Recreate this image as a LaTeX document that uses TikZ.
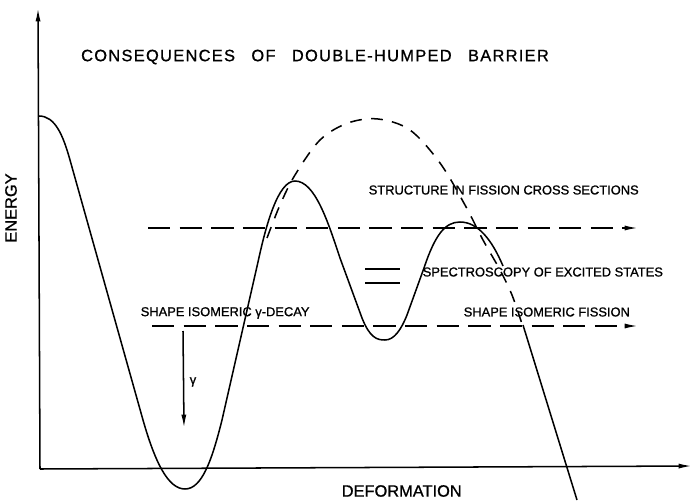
\documentclass[tikz,border=0pt]{standalone}
\usepackage{fontspec}
\setmainfont{Liberation Sans}
\newfontfamily\lettering[FakeBold=1]{Liberation Sans}
\newfontfamily\titlelettering[FakeBold=1,LetterSpace=8]{Liberation Sans}
\usetikzlibrary{arrows.meta}

\begin{document}
\begin{tikzpicture}[x=0.03cm, y=-0.03cm, >={Latex[length=4mm,width=1.5mm]}, line width=1.3pt,
big/.style={font=\titlelettering\fontsize{14}{16}\selectfont, inner sep=0pt},
axislabel/.style={font=\lettering\fontsize{14}{16}\selectfont, inner sep=0pt},
small/.style={font=\lettering\fontsize{11}{13}\selectfont, inner sep=0pt},
level/.style={dash pattern=on 19pt off 8pt},
envelope/.style={dash pattern=on 10pt off 8pt}]
\useasboundingbox (0,0) rectangle (692,501);
% axes
\coordinate (origin) at (40,469);
\coordinate (ytip) at (38,8);
\coordinate (xtip) at (692,466);
\draw[->] (origin) -- (ytip);
\draw[->] (origin) -- (xtip);
\node[big] (title) at (315,57) {CONSEQUENCES\quad OF\quad DOUBLE-HUMPED\quad BARRIER};
\node[axislabel,rotate=90] (energy) at (11,208) {ENERGY};
\node[axislabel,anchor=west] (deform) at (341,491) {DEFORMATION};
% double-humped barrier
\draw (39,116) .. controls (55,116) and (63,135) .. (70,160)
  -- (143,420) .. controls (155,462) and (168,489) .. (185,489)
  .. controls (202,489) and (212,460) .. (222,420)
  -- (258,262) .. controls (266,225) and (278,181) .. (295,181)
  .. controls (315,181) and (328,222) .. (340,258)
  -- (362,318) .. controls (370,338) and (377,340) .. (385,340)
  .. controls (394,340) and (401,330) .. (407,315)
  -- (424,268) .. controls (435,235) and (445,222) .. (460,222)
  .. controls (478,222) and (492,240) .. (503,266);
\draw (523,325) -- (577,500);
% single-humped barrier
\draw[envelope] plot[smooth, tension=0.55] coordinates {(267,238) (280,205) (295,175) (320,140)
  (348,123) (378,119) (410,130) (440,163) (465,205) (483,240) (500,270) (512,295) (522,324)};
% levels
\coordinate (upL) at (148,228);
\coordinate (upR) at (638,228);
\coordinate (loL) at (152,326);
\coordinate (loR) at (638,326);
\draw[level,->] (upL) -- (upR);
\draw[level,->] (loL) -- (loR);
\node[small,anchor=west] (structure) at (368,190) {STRUCTURE IN FISSION CROSS SECTIONS};
\node[small,anchor=west] (spectro) at (422,272) {SPECTROSCOPY OF EXCITED STATES};
\draw (365,269) -- (400,269);
\draw (365,283) -- (400,283);
\node[small,anchor=west] (isofis) at (463,312) {SHAPE ISOMERIC FISSION};
\node[small,anchor=west] (isogam) at (140,313) {SHAPE ISOMERIC γ-DECAY};
% gamma transition
\coordinate (gtop) at (183,331);
\coordinate (gbot) at (184,428);
\draw[->] (gtop) -- (gbot);
\node[small,anchor=west] (gamma) at (189,382) {γ};
\end{tikzpicture}
\end{document}
